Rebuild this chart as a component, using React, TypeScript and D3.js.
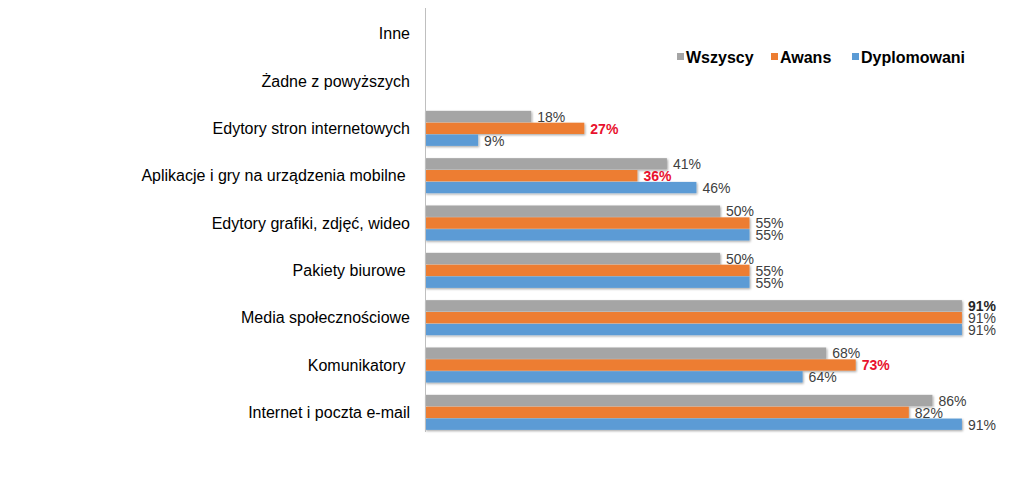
import React from "react";
import * as d3 from "d3";

const categories = [
  "Inne",
  "Żadne z powyższych",
  "Edytory stron internetowych",
  "Aplikacje i gry na urządzenia mobilne ",
  "Edytory grafiki, zdjęć, wideo",
  "Pakiety biurowe ",
  "Media społecznościowe",
  "Komunikatory ",
  "Internet i poczta e-mail",
];

const seriesNames = ["Wszyscy", "Awans", "Dyplomowani"];
const seriesColors = ["#A5A5A5", "#ED7D31", "#5B9BD5"];

const wszyscy: (number | null)[] = [null, null, 18, 41, 50, 50, 91, 68, 86];
const awans: (number | null)[] = [null, null, 27, 36, 55, 55, 91, 73, 82];
const dyplomowani: (number | null)[] = [null, null, 9, 46, 55, 55, 91, 64, 91];

// highlighted labels: [seriesIndex, categoryIndex, style]
const highlights: [number, number, string][] = [
  [1, 2, "red"],
  [1, 3, "red"],
  [1, 7, "red"],
  [0, 6, "bold"],
];

const seriesValues = [wszyscy, awans, dyplomowani];

export default function App() {
  const W = 1024;
  const H = 486;
  const x0 = 425;
  const x = d3.scaleLinear().domain([0, 100]).range([x0, x0 + 590]);
  const y = d3
    .scaleBand<string>()
    .domain(categories)
    .range([10, 436])
    .paddingInner(0.26)
    .paddingOuter(0.13);
  const yi = d3
    .scaleBand<string>()
    .domain(seriesNames)
    .range([0, y.bandwidth()])
    .paddingInner(0.05);

  const styleFor = (s: number, c: number) => {
    const h = highlights.find((e) => e[0] === s && e[1] === c);
    if (!h) return { fill: "#404040", fontWeight: "normal" as const };
    if (h[2] === "red") return { fill: "#E8112D", fontWeight: "bold" as const };
    return { fill: "#262626", fontWeight: "bold" as const };
  };

  const legendX = [677, 771, 852];

  return (
    <svg
      width={W}
      height={H}
      style={{ position: "absolute", left: 0, top: 0, background: "#fff" }}
      fontFamily="'Liberation Sans', Arial, sans-serif"
    >
      <defs>
        <filter id="sh" x="-5%" y="-30%" width="110%" height="170%">
          <feDropShadow dx="1" dy="1.2" stdDeviation="0.8" floodColor="#000" floodOpacity="0.35" />
        </filter>
      </defs>
      {categories.map((c) => (
        <text
          key={c}
          x={410}
          y={(y(c) as number) + y.bandwidth() / 2}
          dy="0.35em"
          textAnchor="end"
          fontSize={16}
          fill="#000"
          style={{ whiteSpace: "pre" }}
        >
          {c}
        </text>
      ))}
      {seriesValues.map((vals, s) =>
        vals.map((v, ci) => {
          if (v == null) return null;
          const c = categories[ci];
          const yy = (y(c) as number) + (yi(seriesNames[s]) as number);
          const st = styleFor(s, ci);
          return (
            <g key={`${s}-${ci}`}>
              <rect
                x={x(0)}
                y={yy}
                width={x(v) - x(0)}
                height={yi.bandwidth()}
                fill={seriesColors[s]}
                filter="url(#sh)"
              />
              <text
                x={x(v) + 6}
                y={yy + yi.bandwidth() / 2}
                dy="0.38em"
                fontSize={14}
                fill={st.fill}
                fontWeight={st.fontWeight}
              >
                {v}%
              </text>
            </g>
          );
        })
      )}
      <line x1={x0 + 0.5} x2={x0 + 0.5} y1={8} y2={432} stroke="#BFBFBF" strokeWidth={1} />
      {seriesNames.map((n, i) => (
        <g key={n}>
          <rect x={legendX[i]} y={53} width={7} height={7} fill={seriesColors[i]} />
          <text x={legendX[i] + 9} y={57} dy="0.36em" fontSize={16} fontWeight="bold" fill="#000">
            {n}
          </text>
        </g>
      ))}
    </svg>
  );
}
